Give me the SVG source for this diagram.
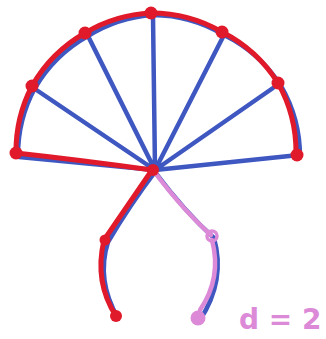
<svg xmlns="http://www.w3.org/2000/svg" width="326" height="339" viewBox="0 0 326 339">
<style>
.b{fill:none;stroke:#3f57c0;stroke-width:4.5;stroke-linecap:round;stroke-linejoin:round}
.r{fill:none;stroke:#e01a2a;stroke-width:5;stroke-linecap:round;stroke-linejoin:round}
.p{fill:none;stroke:#dc8ad8;stroke-width:4.5;stroke-linecap:round}
.rd{fill:#e01a2a}
.pd{fill:#dc8ad8}
.lbl{font-family:"DejaVu Sans",sans-serif;font-size:28px;font-weight:bold;fill:#dc8ad8}
</style>
<rect width="326" height="339" fill="#fff"/>
<g id="connectors">
  <g id="blue">
    <path class="b" d="M155,170 L19,157 M155,170 L35,89 M155,170 L88,36 M155,170 L153,16 M155,170 L224,35 M155,170 L273,88 M155,170 L299,155"/>
    <path class="b" d="M18,156 A141,141 0 0 1 35,88 A141,141 0 0 1 88,36 A141,141 0 0 1 153,15 A141,141 0 0 1 224,35 A141,141 0 0 1 281,86 A141,141 0 0 1 300,157"/>
    <path class="b" d="M155,172 Q130,205 108,242 Q96,280 118,318"/>
    <path class="b" d="M155,172 Q185,212 214,238 Q226,280 200,320"/>
  </g>
  <g id="red">
    <path class="r" d="M152,170 Q80,160 16,153 A141,141 0 0 1 32,86 A141,141 0 0 1 85,33 A141,141 0 0 1 151,13 A141,141 0 0 1 222,32 A141,141 0 0 1 278,83 A141,141 0 0 1 296,153"/>
    <path class="r" d="M152,170 Q128,205 104,240 Q94,282 116,316"/>
  </g>
  <g id="pink">
    <path class="p" d="M156,174 Q185,212 211,235"/>
    <path class="p" d="M212,240 Q222,278 200,310"/>
  </g>
</g>
<g id="n-center"><circle class="rd" cx="153" cy="170" r="6"/></g>
<g id="n-a0"><circle class="rd" cx="16" cy="153" r="6.5"/></g>
<g id="n-a1"><circle class="rd" cx="32" cy="86" r="6.5"/></g>
<g id="n-a2"><circle class="rd" cx="85" cy="33" r="6.5"/></g>
<g id="n-a3"><circle class="rd" cx="151" cy="13" r="6.5"/></g>
<g id="n-a4"><circle class="rd" cx="222" cy="32" r="6.5"/></g>
<g id="n-a5"><circle class="rd" cx="278" cy="83" r="6.5"/></g>
<g id="n-a6"><circle class="rd" cx="297" cy="155" r="6.5"/></g>
<g id="n-l1"><circle class="rd" cx="105" cy="240" r="5.5"/></g>
<g id="n-l2"><circle class="rd" cx="116" cy="316" r="6"/></g>
<g id="n-r1"><circle cx="212" cy="236" r="5" fill="none" stroke="#dc8ad8" stroke-width="3.5"/></g>
<g id="n-r2"><circle class="pd" cx="198" cy="318" r="7.5"/></g>
<g id="label"><text class="lbl" x="239" y="329">d = 2</text></g>
</svg>
